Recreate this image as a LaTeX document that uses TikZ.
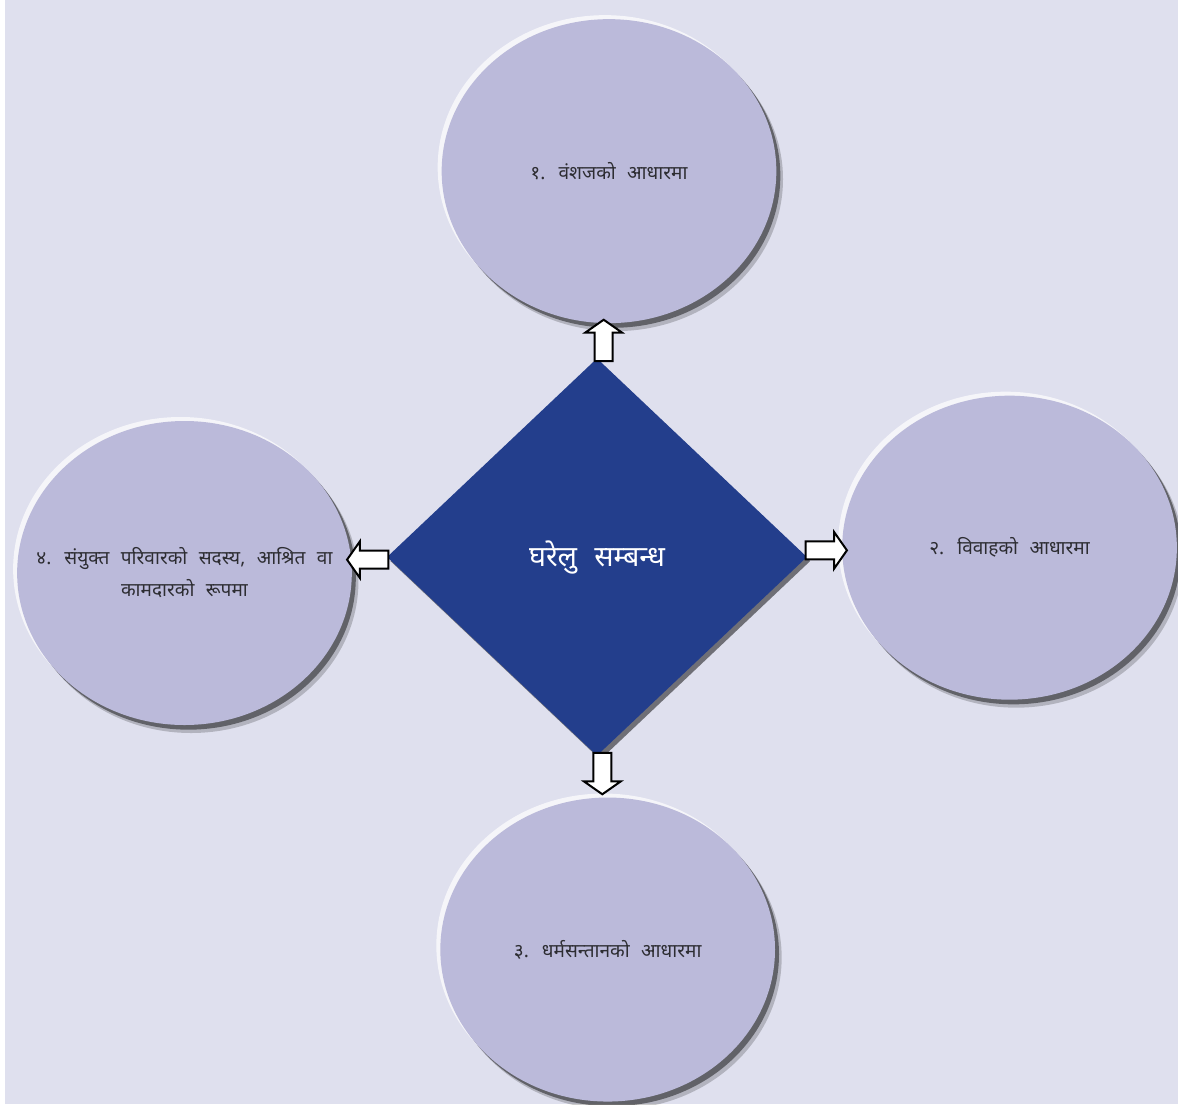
\documentclass[tikz,border=0pt]{standalone}
\usepackage{fontspec}
\setmainfont{Noto Sans}[Script=Devanagari,WordSpace=2.3]
\usetikzlibrary{positioning,shapes.geometric,shapes.arrows,shadows}
\definecolor{bgpanel}{RGB}{223,224,238}
\definecolor{bubblefill}{RGB}{187,186,218}
\definecolor{hubblue}{RGB}{35,62,140}
\definecolor{labelgray}{RGB}{45,45,50}

\begin{document}
\begin{tikzpicture}[x=0.75pt,y=-0.75pt,node distance=26pt,every node/.style={font=\fontsize{14.3}{24}\selectfont}]
\tikzstyle{bubble}=[ellipse,fill=bubblefill,minimum width=251pt,minimum height=228pt,inner sep=0pt,align=center,text=labelgray,
  general shadow={fill=white,opacity=.7,shadow xshift=-3pt,shadow yshift=3pt},
  general shadow={fill=black,opacity=.2,shadow xshift=5pt,shadow yshift=-6pt},
  general shadow={fill=black,opacity=.45,shadow xshift=3pt,shadow yshift=-3.5pt}]
\tikzstyle{hub}=[diamond,fill=hubblue,text=white,minimum width=315pt,minimum height=298pt,inner sep=0pt,
  font=\fontsize{21.5}{24}\selectfont,
  general shadow={fill=black,opacity=.5,shadow xshift=2.5pt,shadow yshift=-3pt}]
\tikzstyle{push}=[single arrow,draw=black,fill=white,line width=1.5pt,minimum height=31pt,minimum width=0pt,
  inner sep=6pt,single arrow head extend=7pt,single arrow tip angle=110]
% page and panel
\fill[white] (0,0) rectangle (1178,1104);
\fill[bgpanel] (5,0) rectangle (1178,1104);
\useasboundingbox (0,0) rectangle (1178,1104);

\node[hub] (hub) at (597,557) {\raisebox{-5pt}{घरेलु सम्बन्ध}};
\node[bubble,above=of hub,xshift=9pt] (lineage) {१. वंशजको आधारमा};
\node[bubble,right=of hub,yshift=7pt] (marriage) {२. विवाहको आधारमा};
\node[bubble,below=31pt of hub,xshift=8pt] (adoption) {३. धर्मसन्तानको आधारमा};
\node[bubble,inner xsep=-32pt,left=of hub,yshift=-12pt] (member) {४. संयुक्त परिवारको सदस्य, आश्रित वा\\कामदारको रूपमा};

\node[push,rotate=90,anchor=tail] (toLineage) at ([xshift=5pt,yshift=-3pt]hub.north) {};
\node[push,rotate=0,anchor=tail] (toMarriage) at ([xshift=-2pt,yshift=5pt]hub.east) {};
\node[push,rotate=-90,anchor=tail] (toAdoption) at ([xshift=4pt,yshift=3pt]hub.south) {};
\node[push,rotate=180,anchor=tail] (toMember) at ([xshift=2pt,yshift=-2pt]hub.west) {};
\end{tikzpicture}
\end{document}
